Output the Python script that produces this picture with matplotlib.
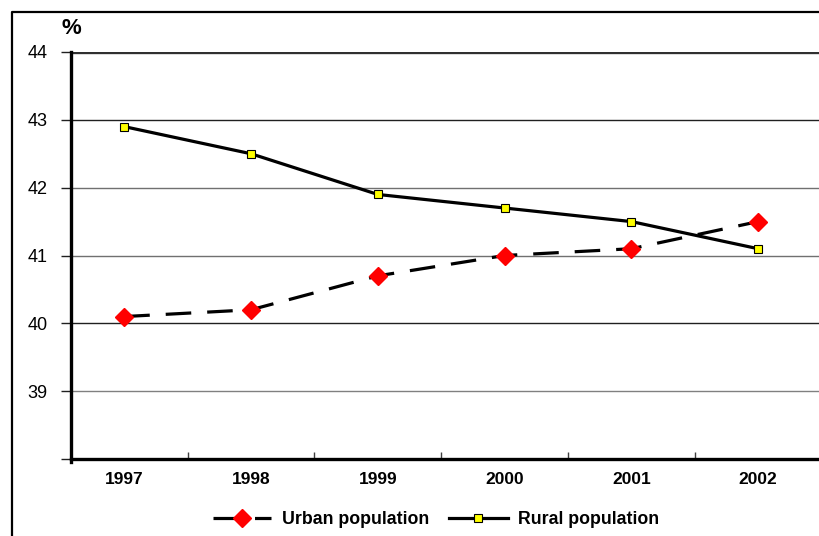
import matplotlib
matplotlib.use("Agg")
import matplotlib.pyplot as plt
from matplotlib.lines import Line2D

plt.rcParams['font.family'] = ['Liberation Sans', 'DejaVu Sans']

years = ['1997', '1998', '1999', '2000', '2001', '2002']
urban = [40.1, 40.2, 40.7, 41.0, 41.1, 41.5]
rural = [42.9, 42.5, 41.9, 41.7, 41.5, 41.1]
y_ticks = [39, 40, 41, 42, 43, 44]

W, H = 819, 536
fig = plt.figure(figsize=(W / 100, H / 100), dpi=100)
ax = fig.add_axes([71 / W, 1 - 459 / H, (W - 71) / W, (459 - 52) / H])

x = list(range(len(years)))

# gridlines
grid_cols = {39: '#808080', 40: '#202020', 41: '#707070', 42: '#707070', 43: '#202020'}
for v, c in grid_cols.items():
    ax.axhline(v, color=c, lw=1.0, zorder=1)
ax.axhline(44, color='#303030', lw=2.4, zorder=1)

ax.plot(x, urban, color='black', lw=2.3, dashes=(8, 5), zorder=3,
        marker='D', markersize=9, markerfacecolor='#ff0000', markeredgecolor='#ff0000',
        label='Urban population')
ax.plot(x, rural, color='black', lw=2.3, zorder=3,
        marker='s', markersize=5.5, markerfacecolor='#ffff00', markeredgecolor='black',
        markeredgewidth=0.8, label='Rural population')

ax.set_xlim(-0.42, 5.48)
ax.set_ylim(38, 44)

ax.set_yticks([38] + y_ticks)
ax.set_yticklabels([''] + [str(t) for t in y_ticks], fontsize=13)
ax.tick_params(axis='y', length=7, width=1.0, pad=10, color='#202020')

ax.set_xticks([i + 0.5 for i in range(len(years) - 1)])
ax.set_xticklabels([])
ax.set_xticks(x, minor=True)
ax.set_xticklabels(years, minor=True, fontsize=12.5, fontweight='bold')
ax.tick_params(axis='x', which='major', direction='in', length=5, width=1.0, color='#404040')
ax.tick_params(axis='x', which='minor', length=0, pad=9)

for s in ['top', 'right']:
    ax.spines[s].set_visible(False)
ax.spines['left'].set_linewidth(2.4)
ax.spines['bottom'].set_linewidth(2.4)
ax.spines['left'].set_bounds(37.95, 44)

fig.text(62 / W, 1 - 28 / H, '%', fontsize=16, fontweight='bold', ha='left', va='center')

# outer frame
fig.add_artist(Line2D([12 / W, 12 / W, 1.0], [0.0, 1 - 12 / H, 1 - 12 / H],
                      transform=fig.transFigure, color='black', lw=1.6))

fig.legend(loc='center', bbox_to_anchor=(436 / W, 1 - 520 / H), ncol=2, frameon=False,
           prop={'weight': 'bold', 'size': 12.8}, handlelength=3.3, columnspacing=1.1,
           handletextpad=0.6)

fig.savefig('out.png', dpi=100, facecolor='white')
